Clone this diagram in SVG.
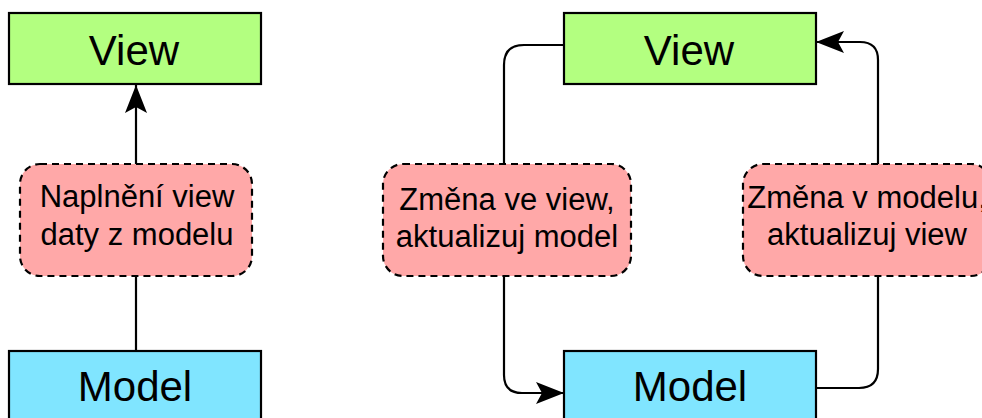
<svg xmlns="http://www.w3.org/2000/svg" width="982" height="418" viewBox="0 0 982 418">
  <style>
    .view { fill: #b3ff80; stroke: #000; stroke-width: 2.2; }
    .model { fill: #80e5ff; stroke: #000; stroke-width: 2.2; }
    .label { fill: #ffa8a8; stroke: #000; stroke-width: 2.2; stroke-dasharray: 7 5; }
    .big { font-family: "Liberation Sans", Arial, sans-serif; font-size: 42px; fill: #000; text-anchor: middle; }
    .small { font-family: "Liberation Sans", Arial, sans-serif; font-size: 31px; fill: #000; text-anchor: middle; }
    .edge { fill: none; stroke: #000; stroke-width: 2.2; }
  </style>
  <defs>
    <marker id="arrow" viewBox="0 0 28 22" markerWidth="28" markerHeight="22" refX="28" refY="11" orient="auto" markerUnits="userSpaceOnUse">
      <path d="M0,0 L28,11 L0,22 L6,11 Z" fill="#000"/>
    </marker>
  </defs>

  <g id="connectors">
    <path class="edge" d="M136,351 L136,276"/>
    <path class="edge" d="M136,164 L136,85" marker-end="url(#arrow)"/>
    <path class="edge" d="M564,45 L524,45 Q504,45 504,65 L504,164"/>
    <path class="edge" d="M504,276 L504,375 Q504,393 522,393 L564,393" marker-end="url(#arrow)"/>
    <path class="edge" d="M816,388 L859,388 Q878,388 878,369 L878,276"/>
    <path class="edge" d="M878,164 L878,60 Q878,42 860,42 L816,42" marker-end="url(#arrow)"/>
  </g>

  <g id="view-left">
    <rect class="view" x="9" y="13" width="252" height="71"/>
    <text class="big" x="134" y="65">View</text>
  </g>
  <g id="model-left">
    <rect class="model" x="9" y="351" width="252" height="71"/>
    <text class="big" x="135" y="401">Model</text>
  </g>
  <g id="label-left">
    <rect class="label" x="20" y="164" width="232" height="112" rx="20" ry="20"/>
    <text class="small" x="137" y="207">Naplnění view</text>
    <text class="small" x="137" y="245">daty z modelu</text>
  </g>

  <g id="view-right">
    <rect class="view" x="564" y="13" width="252" height="71"/>
    <text class="big" x="689" y="65">View</text>
  </g>
  <g id="model-right">
    <rect class="model" x="564" y="351" width="252" height="71"/>
    <text class="big" x="690" y="401">Model</text>
  </g>
  <g id="label-view-to-model">
    <rect class="label" x="383" y="164" width="248" height="112" rx="20" ry="20"/>
    <text class="small" x="507" y="210">Změna ve view,</text>
    <text class="small" x="507" y="247">aktualizuj model</text>
  </g>
  <g id="label-model-to-view">
    <rect class="label" x="743" y="164" width="248" height="112" rx="20" ry="20"/>
    <text class="small" x="867" y="208">Změna v modelu,</text>
    <text class="small" x="867" y="245">aktualizuj view</text>
  </g>
</svg>
